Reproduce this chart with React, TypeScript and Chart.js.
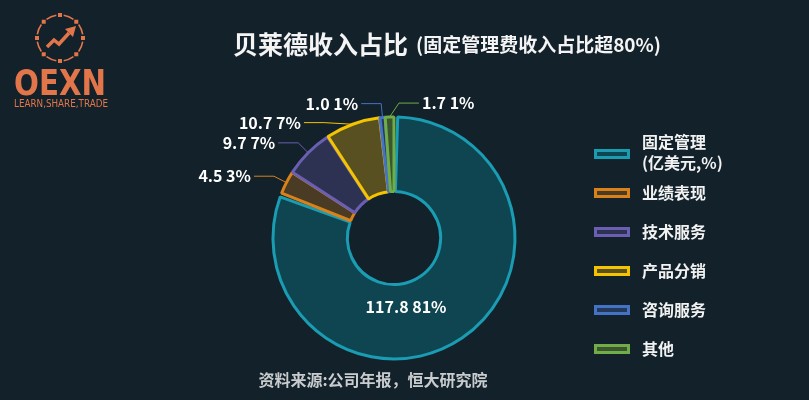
import React, { useEffect, useRef } from 'react';
import { Chart, registerables } from 'chart.js';

Chart.register(...registerables);

// ---- data ----
const categories: string[][] = [['固定管理', '(亿美元,%)'], ['业绩表现'], ['技术服务'], ['产品分销'], ['咨询服务'], ['其他']];
const values: number[] = [117.8, 4.5, 9.7, 10.7, 1.0, 1.7];
const borderColors: string[] = ['#1a9cb3', '#d9821c', '#6a5fb2', '#f5c400', '#4472c4', '#70ad47'];
const fillColors: string[] = ['#0f4451', '#4a3c24', '#2d3252', '#585020', '#24385a', '#3b5530'];
const titleMain = '贝莱德收入占比';
const titleSub = '(固定管理费收入占比超80%)';
const sourceText = '资料来源:公司年报，恒大研究院';
const logoText = 'OEXN';
const logoSub = 'LEARN,SHARE,TRADE';

const BG = '#12212a';
const FONT = '"Noto Sans CJK SC", "Noto Sans", sans-serif';
const LOGO = '#e2764a';

const bgPlugin = {
  id: 'bg',
  beforeDraw(chart: any) {
    const ctx = chart.ctx;
    ctx.save();
    ctx.fillStyle = BG;
    ctx.fillRect(0, 0, chart.width, chart.height);
    ctx.restore();
  },
};

const labelPlugin = {
  id: 'sliceLabels',
  afterDatasetsDraw(chart: any) {
    const ctx = chart.ctx;
    const meta = chart.getDatasetMeta(0);
    const total = values.reduce((a, b) => a + b, 0);
    ctx.save();
    ctx.font = `bold 16px ${FONT}`;
    ctx.textBaseline = 'middle';
    const left: any[] = [];
    const right: any[] = [];
    let cx = 0, cy = 0, R = 0, r1 = 0;
    meta.data.forEach((arc: any, i: number) => {
      const p = arc.getProps(['x', 'y', 'startAngle', 'endAngle', 'innerRadius', 'outerRadius'], true);
      cx = p.x; cy = p.y;
      const mid = (p.startAngle + p.endAngle) / 2;
      const pct = Math.round((values[i] / total) * 100);
      const text = `${values[i].toFixed(1)} ${pct}%`;
      if (values[i] / total > 0.2) {
        const rr = (p.innerRadius + p.outerRadius) / 2;
        ctx.fillStyle = '#ffffff';
        ctx.textAlign = 'right';
        ctx.fillText(text, cx + rr * Math.cos(mid) + 6, cy + rr * Math.sin(mid));
        return;
      }
      R = p.outerRadius + 15;
      r1 = p.outerRadius + 1;
      const c = Math.cos(mid);
      const item = { i, mid, text, y: cy + R * Math.sin(mid) };
      if (c < 0 && Math.abs(c) >= 0.05) left.push(item); else right.push(item);
    });
    const place = (list: any[], side: number) => {
      list.sort((a, b) => a.y - b.y);
      let prev = -Infinity;
      list.forEach((it) => {
        it.y = Math.max(it.y, prev + 19);
        prev = it.y;
        const dy = it.y - cy;
        const dx = Math.sqrt(Math.max(R * R - dy * dy, 0));
        const ex = cx + side * dx;
        const ax = cx + r1 * Math.cos(it.mid);
        const ay = cy + r1 * Math.sin(it.mid);
        const hx = ex + side * 20;
        ctx.strokeStyle = borderColors[it.i];
        ctx.lineWidth = 1;
        ctx.beginPath();
        ctx.moveTo(ax, ay);
        ctx.lineTo(ex, it.y);
        ctx.lineTo(hx, it.y);
        ctx.stroke();
        ctx.fillStyle = '#ffffff';
        ctx.textAlign = side < 0 ? 'right' : 'left';
        ctx.fillText(it.text, hx + side * 3, it.y);
      });
    };
    place(left, -1);
    place(right, 1);
    ctx.restore();
  },
};

const decorPlugin = {
  id: 'decor',
  afterDraw(chart: any) {
    const ctx = chart.ctx;
    ctx.save();
    // title
    ctx.textBaseline = 'middle';
    ctx.fillStyle = '#f4f4f4';
    ctx.font = `bold 25px ${FONT}`;
    const w1 = ctx.measureText(titleMain).width;
    ctx.font = `bold 19px ${FONT}`;
    const w2 = ctx.measureText(titleSub).width;
    const gap = 8;
    const tx = 447 - (w1 + gap + w2) / 2;
    ctx.textAlign = 'left';
    ctx.font = `bold 25px ${FONT}`;
    ctx.fillText(titleMain, tx, 44);
    ctx.font = `bold 19px ${FONT}`;
    ctx.fillText(titleSub, tx + w1 + gap, 45);

    // legend
    const lx = 594;
    let ly = 154;
    categories.forEach((lines, i) => {
      ctx.fillStyle = borderColors[i];
      ctx.fillRect(lx, ly - 5, 36, 10);
      ctx.fillStyle = fillColors[i];
      ctx.fillRect(lx + 3, ly - 2, 30, 4);
      ctx.fillStyle = '#f2f2f2';
      ctx.font = `bold 16px ${FONT}`;
      ctx.textAlign = 'left';
      const lh = 21;
      const startY = ly - 2 - ((lines.length - 1) * lh) / 2;
      lines.forEach((t, k) => ctx.fillText(t, lx + 48, lines.length > 1 ? startY + k * lh : ly));
      ly += 39;
    });

    // source
    ctx.fillStyle = '#c9cccf';
    ctx.font = `bold 16px ${FONT}`;
    ctx.textAlign = 'center';
    ctx.fillText(sourceText, 373, 380);

    // logo
    const lcx = 60, lcy = 38, lr = 23;
    ctx.strokeStyle = LOGO;
    ctx.fillStyle = LOGO;
    ctx.lineWidth = 1.6;
    for (let k = 0; k < 8; k++) {
      const a0 = (k * Math.PI) / 4;
      const a1 = ((k + 1) * Math.PI) / 4;
      ctx.beginPath();
      ctx.arc(lcx, lcy, lr, a0 + 0.16, a1 - 0.16);
      ctx.stroke();
      ctx.fillRect(lcx + lr * Math.cos(a0) - 2, lcy + lr * Math.sin(a0) - 2, 4, 4);
    }
    ctx.lineWidth = 3.5;
    ctx.lineJoin = 'miter';
    ctx.beginPath();
    ctx.moveTo(47, 47);
    ctx.lineTo(54, 40);
    ctx.lineTo(59, 44);
    ctx.lineTo(69, 33);
    ctx.stroke();
    ctx.beginPath();
    ctx.moveTo(76, 26);
    ctx.lineTo(65, 29);
    ctx.lineTo(73, 37);
    ctx.closePath();
    ctx.fill();
    ctx.textAlign = 'left';
    ctx.textBaseline = 'alphabetic';
    ctx.font = `bold 35px "DejaVu Sans", sans-serif`;
    ctx.fillText(logoText, 14, 95, 92);
    ctx.font = `11px "DejaVu Sans", sans-serif`;
    ctx.fillText(logoSub, 14, 107, 94);
    ctx.restore();
  },
};

export default function App() {
  const ref = useRef<HTMLCanvasElement>(null);
  useEffect(() => {
    document.body.style.margin = '0';
    document.body.style.background = BG;
    const chart = new Chart(ref.current as HTMLCanvasElement, {
      type: 'doughnut',
      data: {
        labels: categories as any,
        datasets: [
          {
            data: values,
            backgroundColor: fillColors,
            borderColor: borderColors,
            borderWidth: 3,
            spacing: 2,
            hoverOffset: 0,
          } as any,
        ],
      },
      options: {
        responsive: false,
        animation: false,
        devicePixelRatio: 1,
        radius: 120,
        cutout: '38%',
        layout: { padding: { left: 273, right: 294, top: 117, bottom: 41 } },
        plugins: {
          legend: { display: false },
          tooltip: { enabled: false },
          title: { display: false },
        },
        events: [],
      } as any,
      plugins: [bgPlugin, labelPlugin, decorPlugin],
    });
    return () => chart.destroy();
  }, []);
  return (
    <div style={{ width: 809, height: 400, background: BG }}>
      <canvas ref={ref} width={809} height={400} style={{ display: 'block' }} />
    </div>
  );
}
